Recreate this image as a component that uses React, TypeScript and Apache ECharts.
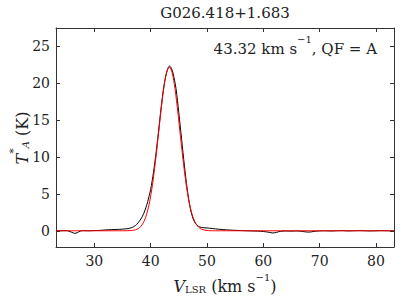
import React, { useEffect, useRef } from "react";
import * as echarts from "echarts";

const title = "G026.418+1.683";
const xTicks = [30, 40, 50, 60, 70, 80];
const yTicks = [0, 5, 10, 15, 20, 25];

const specX = [23.2, 24, 25, 25.5, 26, 26.5, 27, 27.5, 28, 29, 30, 31, 32, 33, 34, 35, 36, 36.5, 37, 37.5, 38, 38.5, 39, 39.5, 40, 40.5, 41, 41.5, 42, 42.5, 43, 43.35, 43.7, 44, 44.5, 45, 45.5, 46, 46.5, 47, 47.5, 48, 48.5, 49, 50, 51, 52, 53, 54, 55, 56, 57, 58, 59, 60, 61, 61.7, 62.3, 63, 64, 65, 66, 67, 68, 68.5, 69, 70, 71, 72, 73, 74, 75, 76, 77, 78, 79, 80, 81, 82, 83.2];
const specY = [0.02, 0.0, 0.02, -0.05, -0.2, -0.35, -0.25, -0.05, 0.02, 0.0, 0.03, 0.05, 0.12, 0.15, 0.18, 0.22, 0.3, 0.4, 0.55, 0.85, 1.3, 1.9, 2.8, 4.0, 5.6, 7.9, 10.8, 14.2, 17.6, 20.3, 21.9, 22.35, 22.0, 21.3, 19.3, 16.0, 12.4, 8.8, 5.6, 3.2, 1.7, 0.95, 0.6, 0.45, 0.38, 0.3, 0.22, 0.15, 0.1, 0.06, 0.03, 0.0, -0.02, -0.05, -0.1, -0.2, -0.3, -0.22, -0.08, -0.03, -0.05, -0.02, -0.1, -0.18, -0.15, -0.08, -0.02, 0.0, -0.03, 0.0, 0.02, -0.02, 0.0, 0.02, 0.0, -0.02, 0.0, 0.02, 0.0, 0.0];

const fitX = [23.2, 35.0, 35.82, 36.32, 36.82, 37.32, 37.82, 38.32, 38.82, 39.32, 39.82, 40.32, 40.82, 41.32, 41.82, 42.32, 42.82, 43.32, 43.82, 44.32, 44.82, 45.32, 45.82, 46.32, 46.82, 47.32, 47.82, 48.32, 48.82, 49.32, 49.82, 50.32, 50.82, 51.5, 83.2];
const fitY = [0, 0, 0.008, 0.022, 0.056, 0.136, 0.308, 0.646, 1.27, 2.31, 3.92, 6.22, 9.17, 12.61, 16.15, 19.27, 21.43, 22.2, 21.43, 19.27, 16.15, 12.61, 9.17, 6.22, 3.92, 2.31, 1.27, 0.646, 0.308, 0.136, 0.056, 0.022, 0.008, 0, 0];

const FONT = "DejaVu Serif";
const INK = "#222";

export default function App() {
  const ref = useRef<HTMLDivElement>(null);
  useEffect(() => {
    if (!ref.current) return;
    const chart = echarts.init(ref.current, undefined, { renderer: "svg" });
    const tickCommon = { inside: true, length: 4, lineStyle: { color: "#333", width: 1 } };
    const lineCommon = { show: true, onZero: false, lineStyle: { color: "#333", width: 1 } };
    chart.setOption({
      animation: false,
      backgroundColor: "#fff",
      textStyle: { fontFamily: FONT },
      grid: { left: 56, right: 13, top: 28, bottom: 58 },
      xAxis: [
        {
          type: "value", min: 23.2, max: 83.2, position: "bottom",
          axisLine: lineCommon,
          axisTick: { ...tickCommon, customValues: xTicks },
          axisLabel: { customValues: xTicks, margin: 7, fontFamily: FONT, fontSize: 14, color: INK },
          splitLine: { show: false },
        },
        {
          type: "value", min: 23.2, max: 83.2, position: "top",
          axisLine: lineCommon,
          axisTick: { ...tickCommon, customValues: xTicks },
          axisLabel: { show: false },
          splitLine: { show: false },
        },
      ],
      yAxis: [
        {
          type: "value", min: -2.2, max: 27.5, position: "left",
          axisLine: lineCommon,
          axisTick: { ...tickCommon, customValues: yTicks },
          axisLabel: { customValues: yTicks, margin: 6, fontFamily: FONT, fontSize: 14, color: INK },
          splitLine: { show: false },
        },
        {
          type: "value", min: -2.2, max: 27.5, position: "right",
          axisLine: lineCommon,
          axisTick: { ...tickCommon, customValues: yTicks },
          axisLabel: { show: false },
          splitLine: { show: false },
        },
      ],
      series: [
        {
          type: "line", xAxisIndex: 0, yAxisIndex: 0, symbol: "none", smooth: 0.3,
          data: specX.map((x, i) => [x, specY[i]]),
          lineStyle: { color: "#000", width: 1 },
          z: 2,
        },
        {
          type: "line", xAxisIndex: 0, yAxisIndex: 0, symbol: "none", smooth: 0.3,
          data: fitX.map((x, i) => [x, fitY[i]]),
          lineStyle: { color: "#ff0000", width: 1 },
          z: 3,
        },
      ],
      graphic: [
        {
          type: "text", x: 225, y: 13,
          style: { text: title, fontFamily: FONT, fontSize: 15, fill: INK, align: "center", verticalAlign: "middle" },
        },
        {
          type: "text", x: 377, y: 45,
          style: {
            text: "{n|43.32 km s}{s|−1}{n|, QF = A}",
            fontFamily: FONT,
            align: "right", verticalAlign: "middle",
            rich: {
              n: { fontFamily: FONT, fontSize: 15, fill: INK, lineHeight: 22, verticalAlign: "bottom" },
              s: { fontFamily: FONT, fontSize: 10, fill: INK, lineHeight: 22, verticalAlign: "top" },
            },
          },
        },
        {
          type: "text", x: 225, y: 283,
          style: {
            text: "{i|V}{b|LSR}{n| (km s}{s|−1}{n|)}",
            fontFamily: FONT,
            align: "center", verticalAlign: "middle",
            rich: {
              i: { fontFamily: FONT, fontSize: 16, fontStyle: "italic", fill: INK, lineHeight: 22, verticalAlign: "bottom" },
              n: { fontFamily: FONT, fontSize: 16, fill: INK, lineHeight: 22, verticalAlign: "bottom" },
              b: { fontFamily: FONT, fontSize: 10, fill: INK, lineHeight: 16, verticalAlign: "bottom" },
              s: { fontFamily: FONT, fontSize: 10, fill: INK, lineHeight: 22, verticalAlign: "top" },
            },
          },
        },
        {
          type: "text", x: 19, y: 138, rotation: Math.PI / 2,
          style: {
            text: "{i|T}{s|*}{b|A}{n| (K)}",
            fontFamily: FONT,
            align: "center", verticalAlign: "middle",
            rich: {
              i: { fontFamily: FONT, fontSize: 16, fontStyle: "italic", fill: INK, lineHeight: 22, verticalAlign: "bottom" },
              n: { fontFamily: FONT, fontSize: 16, fill: INK, lineHeight: 22, verticalAlign: "bottom" },
              b: { fontFamily: FONT, fontSize: 10, fontStyle: "italic", fill: INK, lineHeight: 18, verticalAlign: "bottom" },
              s: { fontFamily: FONT, fontSize: 11, fill: INK, lineHeight: 22, verticalAlign: "top" },
            },
          },
        },
      ],
    });
    return () => chart.dispose();
  }, []);
  return <div ref={ref} style={{ width: 407, height: 305, position: "fixed", left: 0, top: 0 }} />;
}
